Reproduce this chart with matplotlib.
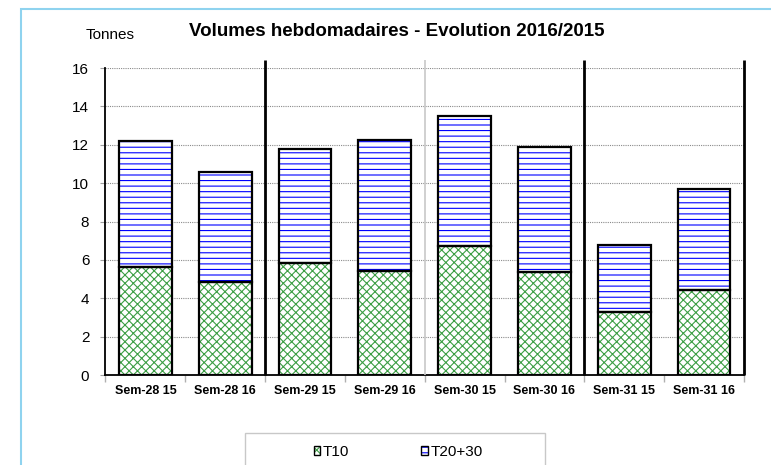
import numpy as np
import matplotlib
matplotlib.use("Agg")
import matplotlib.pyplot as plt
from matplotlib.patches import Patch, Rectangle
from matplotlib.legend_handler import HandlerTuple

plt.rcParams["font.family"] = ["Liberation Sans", "DejaVu Sans"]
plt.rcParams["hatch.linewidth"] = 0.8

# donnees (tonnes)
categories = ["Sem-28 15", "Sem-28 16", "Sem-29 15", "Sem-29 16",
              "Sem-30 15", "Sem-30 16", "Sem-31 15", "Sem-31 16"]
t10 = [5.65, 4.85, 5.85, 5.40, 6.70, 5.35, 3.30, 4.45]
t20_30 = [6.55, 5.73, 5.93, 6.83, 6.82, 6.53, 3.48, 5.24]
y_ticks = [0, 2, 4, 6, 8, 10, 12, 14, 16]
separators = [1.5, 3.5, 5.5, 7.5]
separator_colors = ["black", "#c8c8c8", "black", "black"]

green = "#3c9e44"
blue = "#0000ff"

fig = plt.figure(figsize=(7.71, 4.65), dpi=100)
ax = fig.add_axes([0.1368, 0.1935, 0.8281, 0.6602])

x = np.arange(len(categories))
width = 0.66

# T10 : hachure verte puis contour noir
ax.bar(x, t10, width, color="white", edgecolor=green, hatch="xxxx",
       linewidth=0, zorder=3)
ax.bar(x, t10, width, fill=False, edgecolor="black", linewidth=1.6, zorder=4)

# T20+30 : lignes horizontales bleues
ax.bar(x, t20_30, width, bottom=t10, color="white", edgecolor=blue,
       hatch="---", linewidth=0, zorder=3)
ax.bar(x, t20_30, width, bottom=t10, fill=False, edgecolor="black",
       linewidth=1.6, zorder=4)

ax.set_xlim(-0.5, 7.5)
ax.set_ylim(0, 16)

for xs, c in zip(separators, separator_colors):
    ax.plot([xs, xs], [0, 16.42], color=c, lw=2 if c == "black" else 1.2,
            clip_on=False, zorder=5, solid_capstyle="butt")

ax.set_yticks(y_ticks)
ax.set_yticklabels([str(v) for v in y_ticks], fontsize=11)
ax.yaxis.grid(True, color="#8a8a8a", linestyle=(0, (1, 1)), linewidth=0.8)
ax.set_axisbelow(True)

ax.set_xticks(x)
ax.set_xticklabels(categories, fontsize=9, fontweight="bold")
ax.set_xticks(np.arange(-0.5, 8.0, 1.0), minor=True)
ax.tick_params(axis="x", which="major", length=0, pad=7)
ax.tick_params(axis="x", which="minor", length=5, color="#b0b0b0", width=1)
ax.tick_params(axis="y", length=3.6, color="#a0a0a0", pad=8)

for s in ["top", "right"]:
    ax.spines[s].set_visible(False)
ax.spines["left"].set_linewidth(1.3)
ax.spines["bottom"].set_linewidth(1.3)

fig.text(397 / 771, 1 - 32 / 465, "Volumes hebdomadaires - Evolution 2016/2015",
         ha="center", va="center", fontsize=13.5, fontweight="bold")
fig.text(110 / 771, 1 - 35 / 465, "Tonnes", ha="center", va="center",
         fontsize=11)

# cadre du graphique
fig.add_artist(Rectangle((21 / 771, -0.1), 1.0, 1 - 9 / 465 + 0.1,
                         transform=fig.transFigure, fill=False,
                         edgecolor="#8fd3ef", linewidth=1.5))

# cadre de la legende
fig.add_artist(Rectangle((245 / 771, -0.1), 300 / 771, (465 - 433) / 465 + 0.1,
                         transform=fig.transFigure, fill=False,
                         edgecolor="#c8c8c8", linewidth=1))

h1 = (Patch(facecolor="white", edgecolor=green, hatch="xxxx", linewidth=0),
      Patch(fill=False, edgecolor="black", linewidth=1))
h2 = (Patch(facecolor="white", edgecolor=blue, hatch="---", linewidth=0),
      Patch(fill=False, edgecolor="black", linewidth=1))
fig.legend([h1, h2], ["T10", "T20+30"], ncol=2, frameon=False,
           loc="center", bbox_to_anchor=(398 / 771, 1 - 452 / 465),
           handler_map={tuple: HandlerTuple(ndivide=1, pad=0)},
           handlelength=0.45, handleheight=0.45, handletextpad=0.15,
           columnspacing=4.7, fontsize=11)

fig.savefig("out.png", dpi=100)
